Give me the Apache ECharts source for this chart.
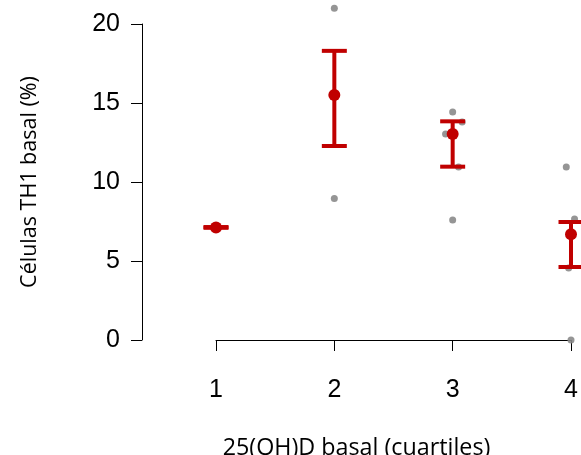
<!DOCTYPE html>
<html>
<head>
<meta charset="utf-8">
<script src="https://cdn.jsdelivr.net/npm/echarts@6/dist/echarts.min.js"></script>
<style>html,body{margin:0;padding:0;background:#fff}#c{width:581px;height:455px}</style>
</head>
<body>
<div id="c"></div>
<script>
// Data
var quartiles = [1, 2, 3, 4];
var yTicks = [0, 5, 10, 15, 20];
// individual observations (x with slight jitter, y value)
var obsX = [1, 2, 2, 3, 3.08, 2.94, 3.05, 3, 3.96, 4.03, 3.98, 4];
var obsY = [7.1, 21.0, 8.95, 14.43, 13.8, 13.04, 10.95, 7.6, 10.95, 7.66, 4.56, 0.0];
// group means and error bounds
var meanVals = [7.12, 15.5, 13.04, 6.7];
var lowVals = [7.1, 12.28, 10.97, 4.62];
var highVals = [7.15, 18.3, 13.84, 7.47];

var RED = '#c00000';
var chart = echarts.init(document.getElementById('c'), null, {renderer: 'canvas'});

var obsData = obsX.map(function (x, i) { return [x, obsY[i]]; });
var meanData = quartiles.map(function (q, i) { return [q, meanVals[i]]; });
var errData = quartiles.map(function (q, i) { return [q, lowVals[i], highVals[i]]; });

chart.setOption({
  animation: false,
  grid: {left: 216, right: 10, top: 24, bottom: 115, containLabel: false, outerBoundsMode: 'none'},
  xAxis: {
    type: 'value', min: 1, max: 4, interval: 1, offset: 16,
    axisLine: {show: true, lineStyle: {color: '#000', width: 1}},
    axisTick: {show: true, length: 11, lineStyle: {color: '#000'}},
    axisLabel: {color: '#000', fontFamily: 'Liberation Sans', fontSize: 25, margin: 22,
      formatter: function (v) { return quartiles.indexOf(v) >= 0 ? String(v) : ''; }},
    splitLine: {show: false},
    name: '25(OH)D basal (cuartiles)', nameLocation: 'middle', nameGap: 81,
    nameTextStyle: {color: '#000', fontFamily: 'Open Sans', fontSize: 23.3, padding: [0, 74, 0, 0]}
  },
  yAxis: {
    type: 'value', min: 0, max: 20, interval: 5, offset: 74,
    axisLine: {show: true, lineStyle: {color: '#000', width: 1}},
    axisTick: {show: true, length: 11, lineStyle: {color: '#000'}},
    axisLabel: {color: '#000', fontFamily: 'Liberation Sans', fontSize: 25, margin: 22,
      formatter: function (v) { return yTicks.indexOf(v) >= 0 ? String(v) : ''; }},
    splitLine: {show: false},
    name: 'Células TH1 basal (%)', nameLocation: 'middle', nameGap: 101, nameRotate: 90,
    nameTextStyle: {color: '#000', fontFamily: 'Open Sans', fontSize: 21.5}
  },
  series: [
    {
      type: 'scatter', data: obsData, symbolSize: 7, clip: false, z: 1,
      itemStyle: {color: '#8a8a8a', opacity: 0.9}
    },
    {
      type: 'custom', data: errData, clip: false, z: 2,
      renderItem: function (params, api) {
        var x = api.value(0);
        var lo = api.coord([x, api.value(1)]);
        var hi = api.coord([x, api.value(2)]);
        var hw = 12.5;
        var st = {stroke: RED, lineWidth: 4};
        return {type: 'group', children: [
          {type: 'line', shape: {x1: lo[0], y1: lo[1], x2: hi[0], y2: hi[1]}, style: st},
          {type: 'line', shape: {x1: lo[0] - hw, y1: lo[1], x2: lo[0] + hw, y2: lo[1]}, style: st},
          {type: 'line', shape: {x1: hi[0] - hw, y1: hi[1], x2: hi[0] + hw, y2: hi[1]}, style: st}
        ]};
      }
    },
    {
      type: 'scatter', data: meanData, symbolSize: 12, clip: false, z: 3,
      itemStyle: {color: RED, opacity: 1}
    }
  ]
});
</script>
</body>
</html>
